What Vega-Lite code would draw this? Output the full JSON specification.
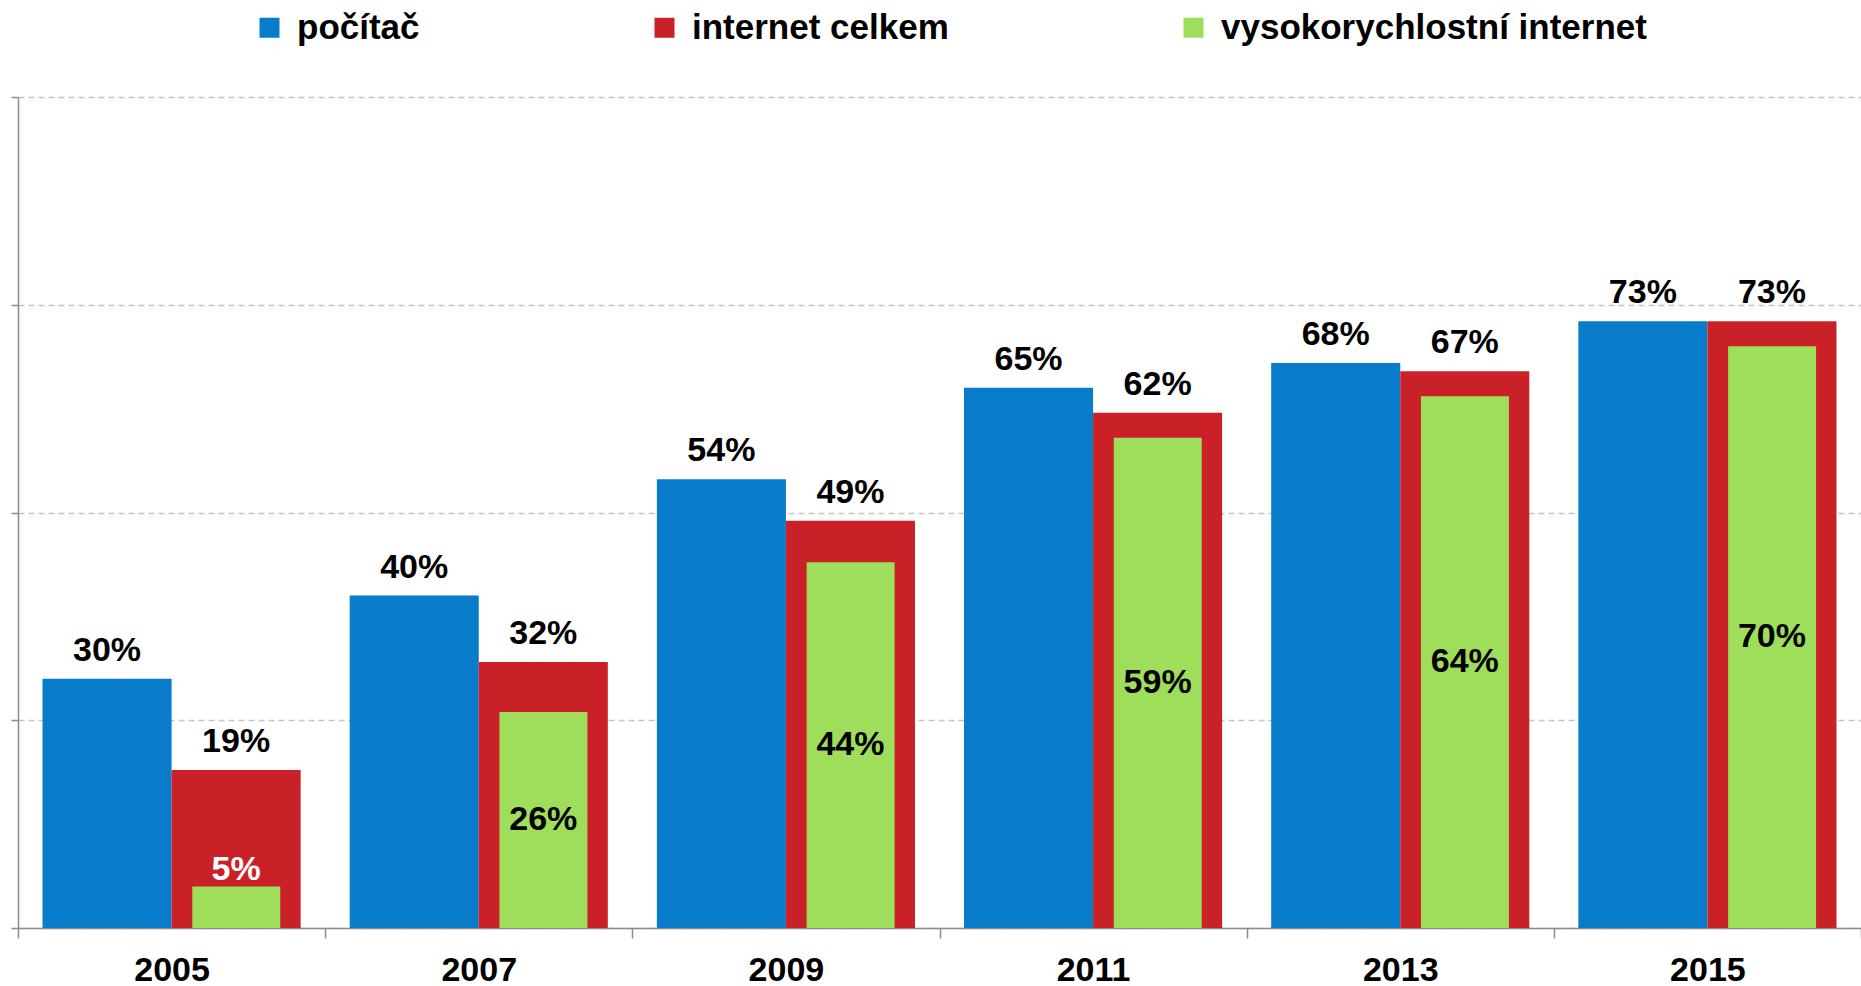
{
  "$schema": "https://vega.github.io/schema/vega-lite/v6.json",
  "autosize": {"type": "none"},
  "width": 1843,
  "height": 831,
  "padding": {"left": 18, "top": 97, "right": 0, "bottom": 58},
  "background": "white",
  "config": {
    "view": {"stroke": null},
    "font": "Liberation Sans",
    "axis": {"domainColor": "#8c8c8c", "tickColor": "#8c8c8c", "domainWidth": 1.5, "tickWidth": 1.5}
  },
  "data": {
    "values": [
      {"year": "2005", "series": "počítač", "value": 30},
      {"year": "2007", "series": "počítač", "value": 40},
      {"year": "2009", "series": "počítač", "value": 54},
      {"year": "2011", "series": "počítač", "value": 65},
      {"year": "2013", "series": "počítač", "value": 68},
      {"year": "2015", "series": "počítač", "value": 73},
      {"year": "2005", "series": "internet celkem", "value": 19},
      {"year": "2007", "series": "internet celkem", "value": 32},
      {"year": "2009", "series": "internet celkem", "value": 49},
      {"year": "2011", "series": "internet celkem", "value": 62},
      {"year": "2013", "series": "internet celkem", "value": 67},
      {"year": "2015", "series": "internet celkem", "value": 73},
      {"year": "2005", "series": "vysokorychlostní internet", "value": 5},
      {"year": "2007", "series": "vysokorychlostní internet", "value": 26},
      {"year": "2009", "series": "vysokorychlostní internet", "value": 44},
      {"year": "2011", "series": "vysokorychlostní internet", "value": 59},
      {"year": "2013", "series": "vysokorychlostní internet", "value": 64},
      {"year": "2015", "series": "vysokorychlostní internet", "value": 70}
    ]
  },
  "transform": [
    {"calculate": "datum.series === 'počítač' ? 'počítač' : 'internet celkem'", "as": "slot"},
    {"calculate": "datum.value + '%'", "as": "label"},
    {"calculate": "datum.value / 2", "as": "mid"}
  ],
  "resolve": {"scale": {"xOffset": "independent"}},
  "encoding": {
    "x": {
      "field": "year", "type": "nominal", "title": null,
      "scale": {"paddingInner": 0, "paddingOuter": 0},
      "axis": {
        "labelAngle": 0, "tickBand": "extent", "tickSize": 10, "labelPadding": 15,
        "labelFontSize": 34, "labelFontWeight": "bold", "labelColor": "#000000", "labelFont": "Liberation Sans"
      }
    },
    "xOffset": {
      "field": "slot", "type": "nominal",
      "scale": {"type": "band", "domain": ["počítač", "internet celkem"], "paddingInner": 0, "paddingOuter": 0.19}
    }
  },
  "layer": [
    {
      "transform": [{"filter": "datum.series !== 'vysokorychlostní internet'"}],
      "mark": {"type": "bar"},
      "encoding": {
        "y": {
          "field": "value", "type": "quantitative", "title": null,
          "scale": {"domain": [0, 100], "nice": false},
          "axis": {
            "values": [0, 25, 50, 75, 100], "labels": false, "tickSize": 7,
            "grid": true, "gridColor": "#c4c4c4", "gridDash": [6, 4], "gridWidth": 1.5
          }
        },
        "color": {
          "field": "series", "type": "nominal",
          "scale": {
            "domain": ["počítač", "internet celkem", "vysokorychlostní internet"],
            "range": ["#087bca", "#ca2128", "#9ede5a"]
          },
          "legend": {
            "title": null, "orient": "none", "direction": "horizontal",
            "legendX": 234, "legendY": -87, "padding": 0,
            "symbolType": "square", "symbolSize": 400, "symbolStrokeWidth": 0, "symbolOpacity": 1,
            "labelFontSize": 35, "labelFontWeight": "bold", "labelColor": "#000000", "labelFont": "Liberation Sans",
            "labelOffset": 10, "columnPadding": 227, "labelLimit": 1000
          }
        }
      }
    },
    {
      "transform": [{"filter": "datum.series === 'vysokorychlostní internet'"}],
      "mark": {"type": "bar"},
      "encoding": {
        "xOffset": {
          "field": "slot", "type": "nominal",
          "scale": {"type": "band", "domain": ["počítač", "internet celkem"], "paddingInner": 0.32, "paddingOuter": 0.347}
        },
        "y": {"field": "value", "type": "quantitative"},
        "color": {"field": "series", "type": "nominal"}
      }
    },
    {
      "transform": [{"filter": "datum.series !== 'vysokorychlostní internet'"}],
      "mark": {"type": "text", "fontSize": 34, "fontWeight": "bold", "baseline": "alphabetic", "dy": -18, "fill": "#000000"},
      "encoding": {
        "y": {"field": "value", "type": "quantitative"},
        "text": {"field": "label"}
      }
    },
    {
      "transform": [{"filter": "datum.series === 'vysokorychlostní internet' && datum.value >= 15"}],
      "mark": {"type": "text", "fontSize": 34, "fontWeight": "bold", "baseline": "middle", "fill": "#000000"},
      "encoding": {
        "y": {"field": "mid", "type": "quantitative"},
        "text": {"field": "label"}
      }
    },
    {
      "transform": [{"filter": "datum.series === 'vysokorychlostní internet' && datum.value < 15"}],
      "mark": {"type": "text", "fontSize": 34, "fontWeight": "bold", "baseline": "alphabetic", "dy": -6, "fill": "#ffffff"},
      "encoding": {
        "y": {"field": "value", "type": "quantitative"},
        "text": {"field": "label"}
      }
    }
  ]
}
